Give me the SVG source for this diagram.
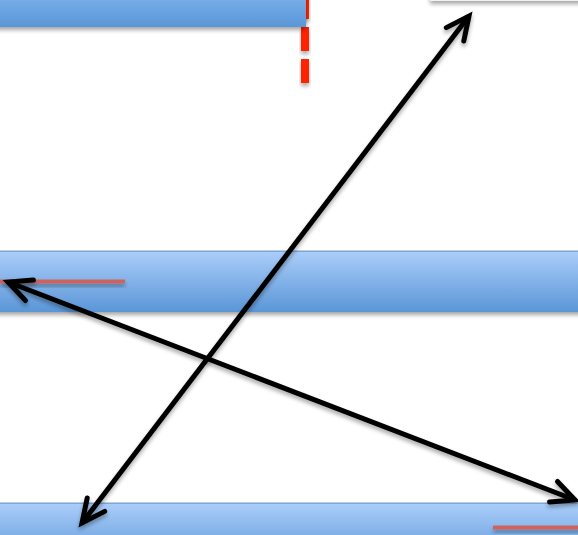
<svg xmlns="http://www.w3.org/2000/svg" width="578" height="535" viewBox="0 0 578 535">
  <defs>
    <style>
      .bar { fill: url(#barGrad); filter: url(#shadow); }
      .edge { fill: #7ea6d6; }
      .redline { fill: #cf625c; filter: url(#shadow); }
      .dash { fill: #ff2200; filter: url(#shadow); }
      .conn { stroke: #000; stroke-width: 5; fill: none; marker-start: url(#head); marker-end: url(#head); filter: url(#shadow); }
    </style>
    <linearGradient id="barGrad" x1="0" y1="0" x2="0" y2="1">
      <stop offset="0" stop-color="#abcefa"/>
      <stop offset="1" stop-color="#5a96d7"/>
    </linearGradient>
    <linearGradient id="topGrad" x1="0" y1="0" x2="0" y2="1">
      <stop offset="0" stop-color="#80b4ee"/>
      <stop offset="1" stop-color="#5a96d7"/>
    </linearGradient>
    <filter id="shadow" x="-20%" y="-50%" width="140%" height="250%">
      <feGaussianBlur in="SourceAlpha" stdDeviation="2"/>
      <feOffset dx="0" dy="3" result="b"/>
      <feComponentTransfer><feFuncA type="linear" slope="0.35"/></feComponentTransfer>
      <feMerge><feMergeNode/><feMergeNode in="SourceGraphic"/></feMerge>
    </filter>
    <marker id="head" markerUnits="userSpaceOnUse" markerWidth="40" markerHeight="40" viewBox="-30 -20 40 40" refX="0" refY="0" orient="auto-start-reverse" overflow="visible">
      <path d="M-23,-11 L0,0 L-23,11" fill="none" stroke="#000" stroke-width="5" stroke-linejoin="miter" stroke-linecap="round"/>
    </marker>
  </defs>

  <g id="top-right-box">
    <rect x="430" y="-30" width="160" height="31" fill="#f2f2f2" filter="url(#shadow)"/>
  </g>

  <g id="top-bar">
    <rect class="dash" x="301" y="-5" width="8" height="24"/>
    <rect class="dash" x="301" y="27" width="8" height="24"/>
    <rect class="dash" x="301" y="59" width="8" height="24"/>
    <rect x="-5" y="-10" width="311" height="37" fill="url(#topGrad)" filter="url(#shadow)"/>
  </g>

  <g id="middle-bar">
    <rect class="bar" x="-5" y="251" width="590" height="61"/>
    <rect class="edge" x="0" y="250.5" width="578" height="1.5"/>
    <rect class="redline" x="0" y="279.5" width="125" height="4"/>
  </g>

  <g id="bottom-bar">
    <rect class="bar" x="-5" y="503" width="590" height="60"/>
    <rect class="edge" x="0" y="502.5" width="578" height="1.5"/>
    <rect class="redline" x="493" y="525.5" width="90" height="4"/>
  </g>

  <g id="connectors">
    <line class="conn" x1="82" y1="523" x2="469" y2="16"/>
    <line class="conn" x1="8" y1="282" x2="575" y2="500"/>
  </g>
</svg>
